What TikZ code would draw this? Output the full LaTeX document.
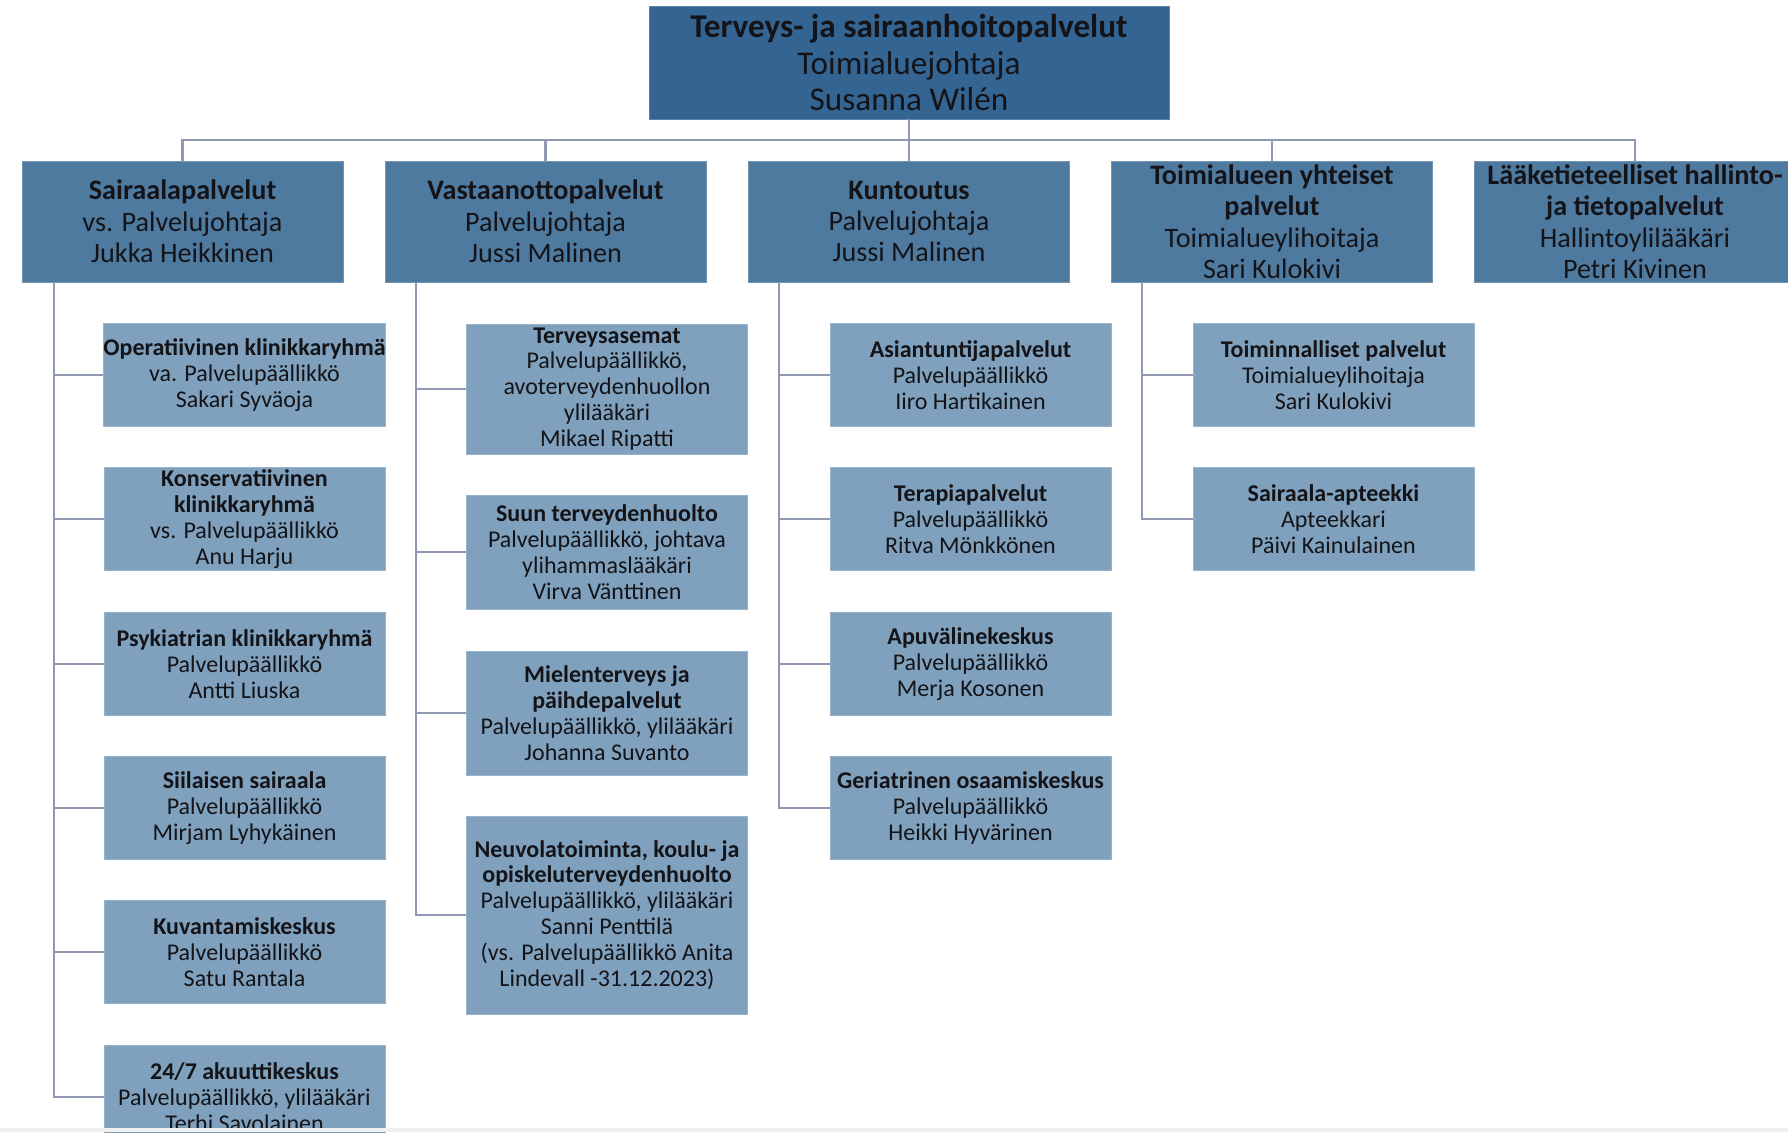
\documentclass[tikz,border=0pt]{standalone}
\usepackage{fontspec}
\setmainfont{Carlito}
\usetikzlibrary{positioning}

\definecolor{topblue}{RGB}{52,101,146}
\definecolor{midblue}{RGB}{79,122,160}
\definecolor{lowblue}{RGB}{127,161,189}
\definecolor{linegray}{RGB}{145,153,178}
\definecolor{inkblack}{RGB}{20,20,24}

\tikzset{
  topbox/.style={rectangle, fill=topblue, draw=topblue!80!white, text=inkblack,
    align=center, minimum width=260pt, minimum height=56.5pt, inner sep=0pt,
    font=\fontsize{16.6}{18.2}\selectfont},
  unitbox/.style={rectangle, fill=midblue, draw=midblue!80!white, text=inkblack,
    align=center, minimum width=160.5pt, minimum height=60.5pt, inner sep=0pt,
    font=\fontsize{14.1}{15.7}\selectfont},
  subbox/.style={rectangle, fill=lowblue, draw=lowblue!80!white, text=inkblack,
    align=center, minimum width=140.5pt, minimum height=51.3pt, inner sep=0pt,
    font=\fontsize{12}{12.95}\selectfont},
  conn/.style={draw=linegray, line width=1.1pt}
}

\begin{document}
\begin{tikzpicture}[x=0.5pt,y=-0.5pt]
\useasboundingbox (0,0) rectangle (1788,1132);

% johto
\node[topbox] (top) at (909,62.5) {\textbf{Terveys- ja sairaanhoitopalvelut}\\Toimialuejohtaja\\Susanna Wilén};

% palvelualueet
\node[unitbox] (sai) at (182.5,221.5) {\textbf{Sairaalapalvelut}\\vs. Palvelujohtaja\\Jukka Heikkinen};
\node[unitbox] (vas) at (545.5,221.5) {\textbf{Vastaanottopalvelut}\\Palvelujohtaja\\Jussi Malinen};
\node[unitbox] (kun) at (909,221.5) {\textbf{Kuntoutus}\\Palvelujohtaja\\Jussi Malinen};
\node[unitbox] (toi) at (1272,221.5) {\textbf{Toimialueen yhteiset}\\\textbf{palvelut}\\Toimialueylihoitaja\\Sari Kulokivi};
\node[unitbox] (laa) at (1635,221.5) {\textbf{Lääketieteelliset hallinto-}\\\textbf{ja tietopalvelut}\\Hallintoylilääkäri\\Petri Kivinen};

% sairaalapalvelut
\node[subbox] (op) at (244.5,375) {\textbf{Operatiivinen klinikkaryhmä}\\va. Palvelupäällikkö\\Sakari Syväoja};
\node[subbox] (ko) at (244.5,519) {\textbf{Konservatiivinen}\\\textbf{klinikkaryhmä}\\vs. Palvelupäällikkö\\Anu Harju};
\node[subbox] (ps) at (244.5,664) {\textbf{Psykiatrian klinikkaryhmä}\\Palvelupäällikkö\\Antti Liuska};
\node[subbox] (si) at (244.5,808) {\textbf{Siilaisen sairaala}\\Palvelupäällikkö\\Mirjam Lyhykäinen};
\node[subbox] (kv) at (244.5,952) {\textbf{Kuvantamiskeskus}\\Palvelupäällikkö\\Satu Rantala};
\node[subbox] (ak) at (244.5,1097) {\textbf{24/7 akuuttikeskus}\\Palvelupäällikkö, ylilääkäri\\Terhi Savolainen};

% vastaanottopalvelut
\node[subbox, minimum height=65pt] (ta) at (607,389) {\textbf{Terveysasemat}\\Palvelupäällikkö,\\avoterveydenhuollon\\ylilääkäri\\Mikael Ripatti};
\node[subbox, minimum height=57pt] (st) at (607,552) {\textbf{Suun terveydenhuolto}\\Palvelupäällikkö, johtava\\ylihammaslääkäri\\Virva Vänttinen};
\node[subbox, minimum height=62pt] (mt) at (607,713) {\textbf{Mielenterveys ja}\\\textbf{päihdepalvelut}\\Palvelupäällikkö, ylilääkäri\\Johanna Suvanto};
\node[subbox, minimum height=99pt] (ne) at (607,915) {\textbf{Neuvolatoiminta, koulu- ja}\\\textbf{opiskeluterveydenhuolto}\\Palvelupäällikkö, ylilääkäri\\Sanni Penttilä\\(vs. Palvelupäällikkö Anita\\Lindevall -31.12.2023)};

% kuntoutus
\node[subbox] (as) at (970.5,375) {\textbf{Asiantuntijapalvelut}\\Palvelupäällikkö\\Iiro Hartikainen};
\node[subbox] (te) at (970.5,519) {\textbf{Terapiapalvelut}\\Palvelupäällikkö\\Ritva Mönkkönen};
\node[subbox] (ap) at (970.5,664) {\textbf{Apuvälinekeskus}\\Palvelupäällikkö\\Merja Kosonen};
\node[subbox] (ge) at (970.5,808) {\textbf{Geriatrinen osaamiskeskus}\\Palvelupäällikkö\\Heikki Hyvärinen};

% yhteiset palvelut
\node[subbox] (tp) at (1333.5,375) {\textbf{Toiminnalliset palvelut}\\Toimialueylihoitaja\\Sari Kulokivi};
\node[subbox] (sa) at (1333.5,519) {\textbf{Sairaala-apteekki}\\Apteekkari\\Päivi Kainulainen};

% yhteydet
\coordinate (bus) at (909,140);
\draw[conn] (top.south) -- (kun.north);
\draw[conn] (sai.north) |- (bus) -| (laa.north);
\draw[conn] (vas.north) -- (vas.north |- bus);
\draw[conn] (toi.north) -- (toi.north |- bus);

\foreach \c in {op,ko,ps,si,kv,ak}
  \draw[conn] ([xshift=16pt]sai.south west) |- (\c.west);
\foreach \c in {ta,st,mt,ne}
  \draw[conn] ([xshift=15.5pt]vas.south west) |- (\c.west);
\foreach \c in {as,te,ap,ge}
  \draw[conn] ([xshift=15.5pt]kun.south west) |- (\c.west);
\foreach \c in {tp,sa}
  \draw[conn] ([xshift=15.5pt]toi.south west) |- (\c.west);

% sivun alareuna
\fill[gray!12] (0,1128) rectangle (1788,1132);
\end{tikzpicture}
\end{document}
